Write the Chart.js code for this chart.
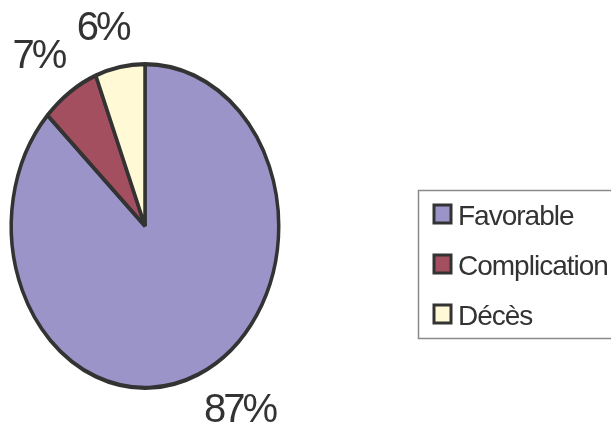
<!DOCTYPE html>
<html>
<head>
<meta charset="utf-8">
<script src="https://cdn.jsdelivr.net/npm/chart.js@4.4.1/dist/chart.umd.min.js"></script>
<style>
  html, body { margin: 0; padding: 0; background: #ffffff; }
  #chart { display: block; }
</style>
</head>
<body>
<canvas id="chart" width="611" height="430"></canvas>
<script>
// Données du graphique
const categories = ['Favorable', 'Complication', 'Décès'];
const valeurs = [87, 7, 6];
const pourcentages = ['87%', '7%', '6%'];
const couleurs = ['#9a94c8', '#a34f5f', '#fffad5'];

// Étirement vertical du camembert (ellipse)
const etirementY = 1.21;

// Plugin: dessine le camembert étiré verticalement
const ellipsePlugin = {
    id: 'ellipse',
    beforeDatasetsDraw(chart) {
        const arc = chart.getDatasetMeta(0).data[0];
        const ctx = chart.ctx;
        ctx.save();
        ctx.translate(arc.x, arc.y);
        ctx.scale(1, etirementY);
        ctx.translate(-arc.x, -arc.y);
    },
    afterDatasetsDraw(chart) {
        chart.ctx.restore();
    }
};

// Plugin: étiquettes des pourcentages à l'extérieur
const etiquettesPlugin = {
    id: 'etiquettes',
    afterDraw(chart) {
        const ctx = chart.ctx;
        const meta = chart.getDatasetMeta(0);
        const borne = v => Math.min(1, Math.max(0, v));
        ctx.save();
        ctx.font = '40px "Liberation Sans", Arial, sans-serif';
        ctx.letterSpacing = '-3px';
        ctx.fillStyle = '#333333';
        ctx.textAlign = 'left';
        ctx.textBaseline = 'top';
        meta.data.forEach((arc, i) => {
            const milieu = (arc.startAngle + arc.endAngle) / 2;
            const c = Math.cos(milieu), s = Math.sin(milieu);
            const d = 15;
            const px = arc.x + (arc.outerRadius + d) * c;
            const py = arc.y + (arc.outerRadius * etirementY + d) * s;
            const w = ctx.measureText(pourcentages[i]).width;
            const h = 46;
            const ax = borne((1 - 3 * c) / 2);
            const ay = borne((1 - 3 * s) / 2);
            ctx.fillText(pourcentages[i], px - ax * w + (c < -0.4 ? 3 : 0), py - ay * h + 3);
        });
        ctx.restore();
    }
};

// Plugin: légende encadrée
const legendePlugin = {
    id: 'legende',
    afterDraw(chart) {
        const ctx = chart.ctx;
        const ds = chart.data.datasets[0];
        ctx.save();
        // cadre
        ctx.strokeStyle = '#8a8a8a';
        ctx.lineWidth = 1.5;
        ctx.strokeRect(418.5, 190.5, 200, 148);
        ctx.font = '28px "Liberation Sans", Arial, sans-serif';
        ctx.letterSpacing = '-1px';
        ctx.textBaseline = 'alphabetic';
        chart.data.labels.forEach((label, i) => {
            const yc = 214 + i * 50;
            ctx.fillStyle = ds.backgroundColor[i];
            ctx.fillRect(434, yc - 9, 17, 18);
            ctx.strokeStyle = '#333333';
            ctx.lineWidth = 3;
            ctx.strokeRect(434, yc - 9, 17, 18);
            ctx.fillStyle = '#333333';
            ctx.fillText(label, 458, yc + 11);
        });
        ctx.restore();
    }
};

const ctx = document.getElementById('chart').getContext('2d');
new Chart(ctx, {
    type: 'pie',
    data: {
        labels: categories,
        datasets: [{
            data: valeurs,
            backgroundColor: couleurs,
            borderColor: '#333333',
            borderWidth: 3.5,
            hoverOffset: 0
        }]
    },
    options: {
        responsive: false,
        animation: false,
        layout: {
            padding: { left: 9.5, top: 90.5, right: 330.5, bottom: 68.5 }
        },
        plugins: {
            legend: { display: false },
            tooltip: { enabled: false }
        }
    },
    plugins: [ellipsePlugin, etiquettesPlugin, legendePlugin]
});
</script>
</body>
</html>
